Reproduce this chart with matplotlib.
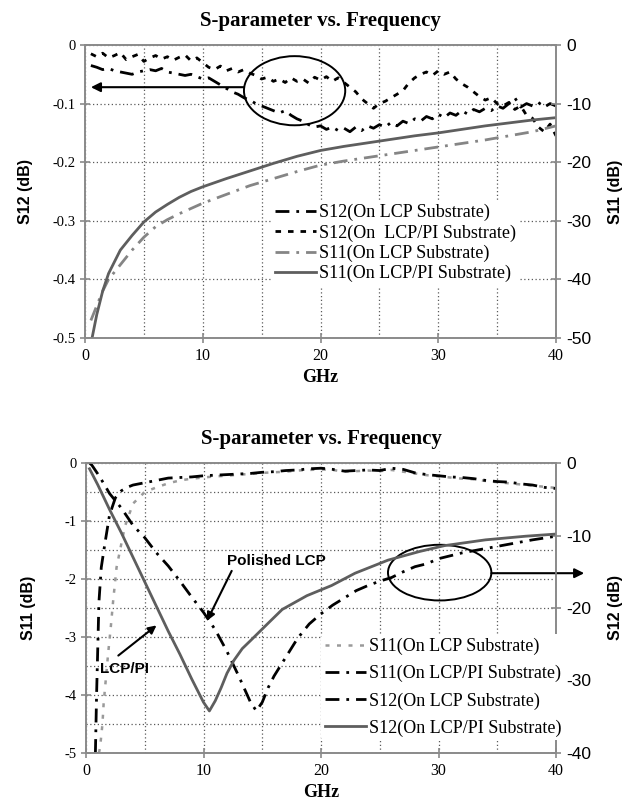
import matplotlib
matplotlib.use("Agg")
import matplotlib.pyplot as plt
from matplotlib.patches import Ellipse
from matplotlib.ticker import MultipleLocator, FuncFormatter

plt.rcParams["axes.unicode_minus"] = False

SERIF = "Liberation Serif"
SANS = "Liberation Sans"
GRID_C = "#5a5a5a"
SPINE_C = "#8a8a8a"
DARK_GRAY = "#5e5e5e"
MID_GRAY = "#858585"
LIGHT_GRAY = "#9a9a9a"

# ---------------- upper panel data ----------------
# frequency grid of the measured S12 traces (GHz)
f_s12 = [0.5 * i for i in range(1, 81)]

s12_lcp = [
    -0.035, -0.038, -0.042, -0.040, -0.044, -0.046, -0.048, -0.050, -0.046, -0.044,
    -0.042, -0.044, -0.040, -0.046, -0.048, -0.050, -0.052, -0.050, -0.054, -0.058,
    -0.056, -0.062, -0.068, -0.074, -0.080, -0.084, -0.090, -0.094, -0.100, -0.104,
    -0.108, -0.112, -0.116, -0.112, -0.120, -0.126, -0.130, -0.136, -0.140, -0.138,
    -0.144, -0.140, -0.146, -0.142, -0.148, -0.140, -0.146, -0.138, -0.142, -0.136,
    -0.140, -0.132, -0.138, -0.130, -0.134, -0.126, -0.130, -0.122, -0.126, -0.118,
    -0.124, -0.116, -0.120, -0.112, -0.118, -0.110, -0.114, -0.108, -0.112, -0.104,
    -0.108, -0.100, -0.090, -0.106, -0.100, -0.104, -0.098, -0.106, -0.100, -0.104,
]

s12_lcp_pi = [
    -0.015, -0.020, -0.014, -0.022, -0.018, -0.013, -0.025, -0.020, -0.016, -0.028,
    -0.022, -0.018, -0.024, -0.020, -0.026, -0.021, -0.017, -0.027, -0.022, -0.030,
    -0.038, -0.042, -0.036, -0.044, -0.040, -0.046, -0.042, -0.048, -0.052, -0.058,
    -0.055, -0.062, -0.058, -0.064, -0.056, -0.062, -0.058, -0.065, -0.055, -0.060,
    -0.054, -0.062, -0.056, -0.064, -0.072, -0.080, -0.092, -0.100, -0.108, -0.100,
    -0.096, -0.090, -0.084, -0.078, -0.065, -0.056, -0.050, -0.046, -0.052, -0.044,
    -0.050, -0.046, -0.058, -0.066, -0.072, -0.080, -0.088, -0.094, -0.090, -0.100,
    -0.104, -0.098, -0.110, -0.104, -0.120, -0.125, -0.140, -0.148, -0.135, -0.155,
]

f_s11_lcp = [0.5, 1, 1.5, 2, 3, 4, 5, 6, 7, 8, 10, 12, 14, 16, 18, 20, 22, 24, 26,
             28, 30, 32, 34, 36, 38, 40]
s11_lcp = [-47, -44.5, -42, -40, -37.5, -35, -32.8, -31, -29.8, -28.8, -27, -25.5,
           -24, -22.8, -21.6, -20.5, -19.8, -19.2, -18.6, -18, -17.4, -16.8, -16.2,
           -15.5, -14.8, -13.8]

f_s11_lcp_pi = [0.6, 0.8, 1, 1.5, 2, 2.5, 3, 4, 5, 6, 7, 8, 9, 10, 12, 14, 16, 18,
                20, 22, 24, 26, 28, 30, 32, 34, 36, 38, 40]
s11_lcp_pi = [-50, -48, -46, -42, -39, -37, -35, -32.5, -30.2, -28.5, -27.2, -26,
              -25, -24.2, -22.8, -21.5, -20.2, -19, -18, -17.3, -16.7, -16.1, -15.5,
              -15, -14.4, -13.8, -13.3, -12.8, -12.4]

# ---------------- lower panel data ----------------
f_b_s11_lcp = [1.1, 1.2, 1.4, 1.5, 1.7, 1.9, 2.1, 2.3, 2.6, 2.9, 3.3, 4, 5, 6, 7, 8,
               9, 10, 11, 12, 13, 14, 15, 16, 17, 18, 19, 20, 21, 22, 23, 24, 25, 26,
               27, 28, 29, 30, 31, 32, 33, 34, 35, 36, 37, 38, 39, 40]
b_s11_lcp = [-5, -4.9, -4.5, -4.15, -3.7, -3.25, -2.85, -2.4, -1.8, -1.5, -1.1, -0.7,
             -0.5, -0.42, -0.35, -0.3, -0.27, -0.25, -0.23, -0.22, -0.2, -0.19, -0.17,
             -0.16, -0.15, -0.13, -0.12, -0.11, -0.12, -0.15, -0.14, -0.13, -0.14,
             -0.12, -0.15, -0.18, -0.21, -0.23, -0.25, -0.27, -0.28, -0.31, -0.33,
             -0.35, -0.37, -0.39, -0.41, -0.43]

f_b_s11_lcp_pi = [0.8, 0.9, 1.0, 1.1, 1.3, 1.6, 2, 2.5, 3, 3.5, 4, 5, 6, 7, 8, 9, 10,
                  11, 12, 13, 14, 15, 16, 17, 18, 19, 20, 21, 22, 23, 24, 25, 26, 27,
                  28, 29, 30, 31, 32, 33, 34, 35, 36, 37, 38, 39, 40]
b_s11_lcp_pi = [-5, -4, -3.2, -2.4, -1.8, -1.4, -0.9, -0.6, -0.48, -0.42, -0.38,
                -0.34, -0.3, -0.26, -0.25, -0.24, -0.22, -0.21, -0.2, -0.19, -0.18,
                -0.16, -0.15, -0.13, -0.12, -0.1, -0.09, -0.11, -0.14, -0.13, -0.12,
                -0.13, -0.09, -0.11, -0.17, -0.2, -0.22, -0.24, -0.25, -0.27, -0.3,
                -0.32, -0.33, -0.36, -0.38, -0.42, -0.44]

f_b_s12_lcp = [0.3, 0.5, 1, 1.5, 2, 2.5, 3, 4, 5, 6, 7, 8, 9, 10, 11, 12, 13, 14,
               14.5, 15, 15.5, 16, 17, 18, 19, 20, 21, 22, 23, 24, 25, 26, 27, 28, 29,
               30, 32, 34, 36, 38, 40]
b_s12_lcp = [0, -0.3, -1.5, -2.8, -4.2, -5.2, -6.2, -8.6, -10.3, -12.4, -14.2, -16.3,
             -18.5, -20.6, -23, -26, -29.4, -33, -34.2, -33, -31, -29.4, -26.8, -24.2,
             -22.2, -20.8, -19.6, -18.6, -17.6, -16.9, -16.3, -15.8, -15, -14.3,
             -13.9, -13.2, -12.4, -11.8, -11.2, -10.6, -10.1]

f_b_s12_lcp_pi = [0.3, 1, 2, 3, 4, 5, 6, 7, 8, 9, 10, 10.5, 11, 11.5, 12, 12.6, 13.3,
                  14, 15.5, 16.7, 18.8, 20.9, 22.9, 25.7, 28.4, 30.5, 34, 37.4, 40]
b_s12_lcp_pi = [-0.8, -3, -6.4, -9.6, -13, -16.4, -19.8, -23.2, -26.4, -29.8, -33,
                -34.2, -32.8, -31, -29, -27.2, -25.6, -24.5, -22.1, -20.2, -18.3,
                -16.9, -15.2, -13.4, -12.2, -11.4, -10.6, -10.1, -9.8]

TITLE = "S-parameter vs. Frequency"

DASHDOT = (0, (5, 2.5, 1, 2.5))
SHORTDASH = (0, (2, 2.5))
GRAYDOT = (0, (1.6, 3))


def _plain(v, _pos):
    v = round(v, 6)
    if abs(v) < 1e-9:
        return "0"
    return f"{v:g}"


plain = FuncFormatter(_plain)


def style_axes(ax_l, ax_r, ylim_l, ystep_l, ygrid_l, ylim_r, ystep_r):
    ax_l.set_xlim(0, 40)
    ax_l.set_ylim(*ylim_l)
    ax_r.set_ylim(*ylim_r)
    ax_l.xaxis.set_major_locator(MultipleLocator(10))
    ax_l.xaxis.set_minor_locator(MultipleLocator(5))
    ax_l.yaxis.set_major_locator(MultipleLocator(ystep_l))
    ax_l.yaxis.set_minor_locator(MultipleLocator(ygrid_l))
    ax_l.yaxis.set_major_formatter(plain)
    ax_r.yaxis.set_major_locator(MultipleLocator(ystep_r))
    ax_r.yaxis.set_major_formatter(plain)
    ax_l.grid(True, which="both", color=GRID_C, linestyle=(0, (1, 2)), linewidth=0.9)
    ax_l.set_axisbelow(True)
    for ax in (ax_l, ax_r):
        for s in ax.spines.values():
            s.set_color(SPINE_C)
            s.set_linewidth(1.2)
    ax_l.tick_params(axis="both", which="major", direction="inout", length=7,
                     color=SPINE_C, width=1.2)
    ax_l.tick_params(axis="both", which="minor", length=0)
    ax_r.tick_params(axis="y", direction="inout", length=7, color=SPINE_C, width=1.2,
                     labelsize=12.5, pad=4)
    for lab in ax_l.get_yticklabels():
        lab.set_fontfamily(SERIF)
        lab.set_fontsize(10.5)
    for lab in ax_l.get_xticklabels():
        lab.set_fontfamily(SERIF)
        lab.set_fontsize(11.5)
    for lab in ax_r.get_yticklabels():
        lab.set_fontfamily(SANS)
    ax_l.set_xlabel("GHz", fontfamily=SERIF, fontweight="bold", fontsize=13, labelpad=4)
    ax_l.set_title(TITLE, fontfamily=SERIF, fontweight="bold", fontsize=15, pad=14)


fig = plt.figure(figsize=(6.32, 8.11), dpi=100)

# ================= upper panel =================
ax1 = fig.add_axes([85 / 632, 1 - 338 / 811, 471 / 632, 293 / 811])
ax2 = ax1.twinx()

l1, = ax1.plot(f_s12, s12_lcp, color="black", lw=2, linestyle=DASHDOT,
               label="S12(On LCP Substrate)")
l2, = ax1.plot(f_s12, s12_lcp_pi, color="black", lw=2, linestyle=SHORTDASH,
               label="S12(On  LCP/PI Substrate)")
l3, = ax2.plot(f_s11_lcp, s11_lcp, color=MID_GRAY, lw=2, linestyle=DASHDOT,
               label="S11(On LCP Substrate)")
l4, = ax2.plot(f_s11_lcp_pi, s11_lcp_pi, color=DARK_GRAY, lw=2, linestyle="-",
               label="S11(On LCP/PI Substrate)")

style_axes(ax1, ax2, (-0.5, 0), 0.1, 0.1, (-50, 0), 10)
ax1.set_ylabel("S12 (dB)", fontfamily=SANS, fontweight="bold", fontsize=11.5, labelpad=14)
ax2.set_ylabel("S11 (dB)", fontfamily=SANS, fontweight="bold", fontsize=11.5, labelpad=12)

leg1 = ax2.legend(handles=[l1, l2, l3, l4], loc="upper left",
                  bbox_to_anchor=(0.395, 0.47), prop={"family": SERIF, "size": 13},
                  frameon=True, facecolor="white", edgecolor="none", framealpha=1,
                  handlelength=2.3, handletextpad=0.15, labelspacing=0.17,
                  borderpad=0.2, borderaxespad=0)

ax1.add_patch(Ellipse((17.8, -0.078), width=8.6, height=0.118, fill=False,
                      edgecolor="black", lw=1.4))
ax1.annotate("", xy=(0.5, -0.072), xytext=(13.5, -0.072),
             arrowprops=dict(arrowstyle="-|>", color="black", lw=1.5,
                             mutation_scale=14, shrinkA=0, shrinkB=0))

# ================= lower panel =================
ax3 = fig.add_axes([86 / 632, 1 - 753 / 811, 470 / 632, 290 / 811])
ax4 = ax3.twinx()

m1, = ax3.plot(f_b_s11_lcp, b_s11_lcp, color=LIGHT_GRAY, lw=1.8, linestyle=GRAYDOT,
               label="S11(On LCP Substrate)")
m2, = ax3.plot(f_b_s11_lcp_pi, b_s11_lcp_pi, color="black", lw=2, linestyle=DASHDOT,
               label="S11(On LCP/PI Substrate)")
m3, = ax4.plot(f_b_s12_lcp, b_s12_lcp, color="black", lw=2, linestyle=DASHDOT,
               label="S12(On LCP Substrate)")
m4, = ax4.plot(f_b_s12_lcp_pi, b_s12_lcp_pi, color=DARK_GRAY, lw=2, linestyle="-",
               label="S12(On LCP/PI Substrate)")

style_axes(ax3, ax4, (-5, 0), 1, 0.5, (-40, 0), 10)
ax3.set_ylabel("S11 (dB)", fontfamily=SANS, fontweight="bold", fontsize=11.5, labelpad=20)
ax4.set_ylabel("S12 (dB)", fontfamily=SANS, fontweight="bold", fontsize=11.5, labelpad=12)

leg2 = ax4.legend(handles=[m1, m2, m3, m4], loc="upper left",
                  bbox_to_anchor=(0.50, 0.41), prop={"family": SERIF, "size": 13},
                  frameon=True, facecolor="white", edgecolor="none", framealpha=1,
                  handlelength=2.3, handletextpad=0.15, labelspacing=0.55,
                  borderpad=0.2, borderaxespad=0)

ax3.add_patch(Ellipse((30.1, -1.89), width=8.8, height=0.96, fill=False,
                      edgecolor="black", lw=1.4))
ax3.annotate("", xy=(42.4, -1.9), xytext=(34.5, -1.9), annotation_clip=False,
             arrowprops=dict(arrowstyle="-|>", color="black", lw=1.5,
                             mutation_scale=14, shrinkA=0, shrinkB=0))

ax3.text(16.2, -1.69, "Polished LCP", fontfamily=SANS, fontweight="bold",
         fontsize=11, ha="center", va="center")
ax3.annotate("", xy=(10.3, -2.72), xytext=(12.4, -1.86),
             arrowprops=dict(arrowstyle="-|>", color="black", lw=1.5,
                             mutation_scale=12, shrinkA=0, shrinkB=0))
ax3.text(1.2, -3.55, "LCP/PI", fontfamily=SANS, fontweight="bold",
         fontsize=11, ha="left", va="center")
ax3.annotate("", xy=(6.0, -2.8), xytext=(2.75, -3.32),
             arrowprops=dict(arrowstyle="-|>", color="black", lw=1.5,
                             mutation_scale=12, shrinkA=0, shrinkB=0))

fig.savefig("out.png", dpi=100)
